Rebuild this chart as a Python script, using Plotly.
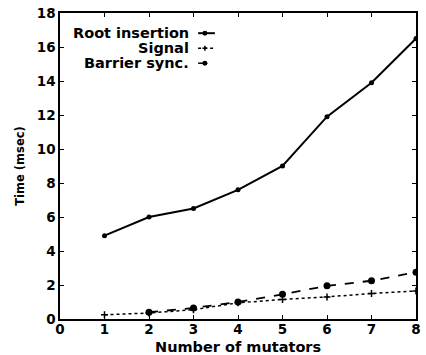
import plotly.graph_objects as go

mutators = [1, 2, 3, 4, 5, 6, 7, 8]
root_insertion = [4.9, 6.0, 6.5, 7.6, 9.0, 11.9, 13.9, 16.5]
signal = [0.25, 0.35, 0.55, 0.95, 1.15, 1.3, 1.5, 1.65]
barrier_mutators = [2, 3, 4, 5, 6, 7, 8]
barrier_sync = [0.4, 0.65, 1.0, 1.45, 1.95, 2.25, 2.75]

legend_labels = ["Root insertion", "Signal", "Barrier sync."]
x_ticks = list(range(0, 9))
y_ticks = list(range(0, 19, 2))

FONT = "DejaVu Sans, sans-serif"

fig = go.Figure()
fig.add_trace(go.Scatter(
    x=mutators, y=root_insertion, mode="lines+markers",
    line=dict(color="black", width=2),
    marker=dict(color="black", size=5, symbol="circle"),
    name=legend_labels[0], showlegend=False))
fig.add_trace(go.Scatter(
    x=mutators, y=signal, mode="lines+markers",
    line=dict(color="black", width=1.5, dash="dot"),
    marker=dict(color="black", size=5, symbol="cross-thin", line=dict(width=1.5, color="black")),
    name=legend_labels[1], showlegend=False))
fig.add_trace(go.Scatter(
    x=barrier_mutators, y=barrier_sync, mode="lines+markers",
    line=dict(color="black", width=1.8, dash="dash"),
    marker=dict(color="black", size=7, symbol="circle"),
    name=legend_labels[2], showlegend=False))

# Hand-built legend: right-aligned labels, line sample with a point to their right
legend_rows = [(0.934, "solid", 2, "dot"), (0.885, "dot", 1.5, "cross"), (0.836, "dash", 1.5, "dot")]
x_line0, x_line1, x_pt = 0.388, 0.435, 0.407
for label, (ypos, dash, w, pt) in zip(legend_labels, legend_rows):
    fig.add_annotation(x=0.368, y=ypos, xref="paper", yref="paper",
                       text=label, showarrow=False, xanchor="right", yanchor="middle",
                       font=dict(family=FONT, size=14.5, color="black", weight="bold"))
    fig.add_shape(type="line", xref="paper", yref="paper",
                  x0=x_line0, x1=x_line1, y0=ypos, y1=ypos,
                  line=dict(color="black", width=w, dash=dash))
    if pt == "dot":
        fig.add_shape(type="circle", xref="paper", yref="paper",
                      x0=x_pt - 0.007, x1=x_pt + 0.007, y0=ypos - 0.008, y1=ypos + 0.008,
                      fillcolor="black", line=dict(color="black", width=0))
    else:
        fig.add_shape(type="line", xref="paper", yref="paper",
                      x0=x_pt - 0.007, x1=x_pt + 0.007, y0=ypos, y1=ypos,
                      line=dict(color="black", width=1.5))
        fig.add_shape(type="line", xref="paper", yref="paper",
                      x0=x_pt, x1=x_pt, y0=ypos - 0.008, y1=ypos + 0.008,
                      line=dict(color="black", width=1.5))

# X-axis title placed just under the tick labels
fig.add_annotation(x=0.5, y=-0.092, xref="paper", yref="paper",
                   text="Number of mutators", showarrow=False,
                   xanchor="center", yanchor="middle",
                   font=dict(family=FONT, size=14.5, color="black", weight="bold"))

axis_common = dict(
    showline=True, linecolor="black", linewidth=1.5, mirror="ticks",
    ticks="inside", ticklen=4, tickcolor="black", tickwidth=1,
    showgrid=False, zeroline=False,
    tickfont=dict(family=FONT, size=13.5, color="black", weight="bold"),
)
fig.update_xaxes(range=[0, 8], tickvals=x_ticks, ticklabelstandoff=-3, **axis_common)
fig.update_yaxes(range=[0, 18], tickvals=y_ticks,
                 title=dict(text="Time (msec)", standoff=10,
                            font=dict(family=FONT, size=11.5, color="black", weight="bold")),
                 **axis_common)

fig.update_layout(
    width=426, height=355,
    margin=dict(l=60, r=5, t=13, b=36),
    paper_bgcolor="white", plot_bgcolor="white",
)
fig.write_html("out.html")
